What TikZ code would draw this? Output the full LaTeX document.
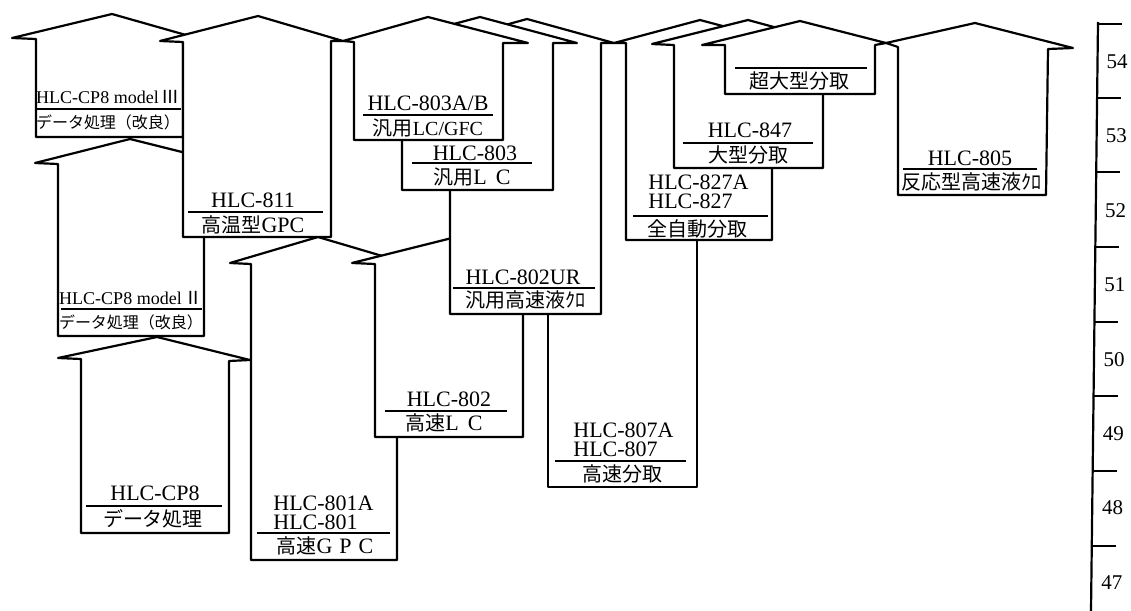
\documentclass[tikz,border=0pt]{standalone}
\usepackage{fontspec}
\setmainfont{Liberation Serif}
\newfontfamily\cjk{Noto Sans CJK JP}
\begin{document}
\begin{tikzpicture}[x=0.5pt,y=-0.5pt,
  shp/.style={draw=black, fill=white, line width=1.1pt, line join=round},
  sep/.style={line width=0.8pt},
  lab/.style={inner sep=0pt, text height=7.4pt, text depth=0pt, font=\fontsize{11}{12}\selectfont},
  two/.style={inner sep=0pt, align=left, anchor=west, font=\fontsize{11}{#1}\selectfont},
  jp/.style={inner sep=0pt, font=\cjk\fontsize{10}{12}\selectfont},
  small/.style={inner sep=0pt, font=\fontsize{9}{10}\selectfont},
  jps/.style={inner sep=0pt, font=\cjk\fontsize{8}{10}\selectfont},
  num/.style={inner sep=0pt, font=\fontsize{10.5}{12}\selectfont}]
\useasboundingbox (0,0) rectangle (1131,611);
% ---- shapes, back to front ----
\filldraw[shp] (548,487) -- (697,487) -- (697,43) -- (548,43) -- cycle; % 807
\filldraw[shp] (251,560) -- (397,560) -- (397,264) -- (406,263) -- (318,237) -- (230,263) -- (251,264) -- cycle; % 801
\filldraw[shp] (375,437) -- (523,437) -- (523,264) -- (546,263) -- (452,238) -- (352,263) -- (375,264) -- cycle; % 802
\filldraw[shp] (81,533) -- (229,533) -- (229,361) -- (250,360) -- (157,337) -- (58,358) -- (81,359) -- cycle; % CP8
\filldraw[shp] (58,336) -- (204,336) -- (204,164) -- (226,163) -- (130,139) -- (35,163) -- (58,164) -- cycle; % model II
\filldraw[shp] (36,137) -- (183,137) -- (183,39) -- (200,39) -- (112,14) -- (12,38) -- (36,39) -- cycle; % model III
\filldraw[shp] (183,237) -- (331,237) -- (331,41) -- (343,41) -- (258,16) -- (160,41) -- (183,42) -- cycle; % 811
\filldraw[shp] (450,314) -- (601,314) -- (601,43) -- (614,43) -- (527,19) -- (440,43) -- (450,43) -- cycle; % 802UR
\filldraw[shp] (402,190) -- (553,190) -- (553,43) -- (577,43) -- (480,17) -- (383,43) -- (402,43) -- cycle; % 803
\filldraw[shp] (354,140) -- (503,140) -- (503,43) -- (528,43) -- (428,17) -- (343,41) -- (354,42) -- cycle; % 803A/B
\filldraw[shp] (626,240) -- (772,240) -- (772,44) -- (790,44) -- (700,20) -- (614,43) -- (626,43) -- cycle; % 827
\filldraw[shp] (674,168) -- (823,168) -- (823,45) -- (840,45) -- (748,20) -- (652,44) -- (674,45) -- cycle; % 847
\filldraw[shp] (725,94) -- (875,94) -- (875,45) -- (886,43) -- (800,21) -- (702,45) -- (725,45) -- cycle; % super large
\filldraw[shp] (898,195) -- (1046,195) -- (1048,49) -- (1073,48) -- (975,23) -- (886,43) -- (898,47) -- cycle; % 805
% ---- labels ----
\node[small] (m3a) at (108,97) {HLC-CP8 model\,{\cjk Ⅲ}};
\draw[sep] (37,109) -- (181,109);
\node[jps] (m3b) at (108,122) {データ処理（改良）};
\node[small] (m2a) at (131,298) {HLC-CP8 model\,{\cjk Ⅱ}};
\draw[sep] (61,309) -- (202,309);
\node[jps] (m2b) at (131,322) {データ処理（改良）};
\node[lab] (cp8a) at (155,493) {HLC-CP8};
\draw[sep] (86,506) -- (222,506);
\node[jp] (cp8b) at (153,519) {データ処理};
\node[lab] (a811) at (253,200) {HLC-811};
\draw[sep] (188,212) -- (323,212);
\node[jp] (b811) at (253,225) {高温型\rmfamily\fontsize{11}{12}\selectfont GPC};
\node[two=9.5] (a801) at (273,512.5) {HLC-801A\\HLC-801};
\draw[sep] (257,533) -- (390,533);
\node[jp] (b801) at (325,546) {高速\rmfamily\fontsize{11}{12}\selectfont G\hspace{3.5pt}P\hspace{3.5pt}C};
\node[lab] (a802) at (449,399) {HLC-802};
\draw[sep] (385,411) -- (507,411);
\node[jp] (b802) at (444,423) {高速\rmfamily\fontsize{11}{12}\selectfont L\hspace{4.5pt}C};
\node[lab] (aur) at (523,277) {HLC-802UR};
\draw[sep] (453,288) -- (595,288);
\node[jp] (bur) at (525,300) {汎用高速液ｸﾛ};
\node[two=9.5] (a807) at (573,439.5) {HLC-807A\\HLC-807};
\draw[sep] (555,461) -- (686,461);
\node[jp] (b807) at (622,474) {高速分取};
\node[lab] (aab) at (428,103) {HLC-803A/B};
\draw[sep] (363,115) -- (493,115);
\node[jp] (bab) at (428,128) {汎用\rmfamily\fontsize{10}{12}\selectfont LC/GFC};
\node[lab] (a803) at (475,153) {HLC-803};
\draw[sep] (412,163) -- (532,163);
\node[jp] (b803) at (472,177) {汎用\rmfamily\fontsize{11}{12}\selectfont L\hspace{4.5pt}C};
\draw[sep] (735,68) -- (867,68);
\node[jp] (bsl) at (799,81) {超大型分取};
\node[lab] (a847) at (750,130) {HLC-847};
\draw[sep] (683,143) -- (813,143);
\node[jp] (b847) at (748,155) {大型分取};
\node[two=9.6] (a827) at (648,192) {HLC-827A\\HLC-827};
\draw[sep] (633,216) -- (768,216);
\node[jp] (b827) at (697,229) {全自動分取};
\node[lab] (a805) at (970,158) {HLC-805};
\draw[sep] (903,169) -- (1037,169);
\node[jp] (b805) at (971,182) {反応型高速液ｸﾛ};
% ---- year scale ----
\coordinate (s0) at (1098,22);
\coordinate (s1) at (1091,611);
\draw[line width=1.1pt] (s0) -- (s1);
\foreach \ty in {24,98,172,247,322,396,471,546}{
  \pgfmathsetmacro{\tx}{1098-7*(\ty-22)/589}
  \coordinate (tk\ty) at (\tx,\ty);
  \draw[line width=1pt] (tk\ty) -- ++(24,0);
}
\foreach \yr/\ly in {54/62,53/136,52/211,51/285,50/360,49/434,48/508,47/583}{
  \pgfmathsetmacro{\lx}{1117-5*(\ly-62)/520}
  \node[num] (y\yr) at (\lx,\ly) {\yr};
}
\end{tikzpicture}
\end{document}
